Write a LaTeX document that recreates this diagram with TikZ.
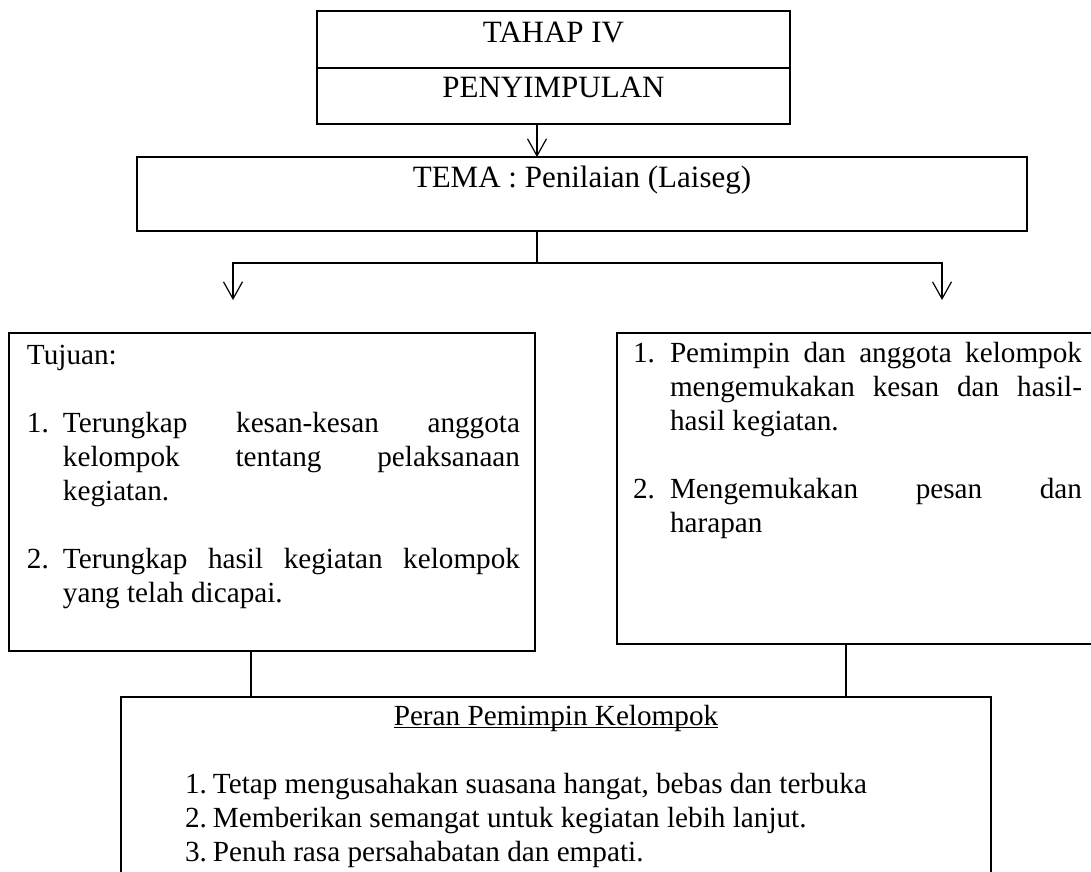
\documentclass[tikz,border=0pt]{standalone}
\usepackage{fontspec}
\setmainfont{Liberation Serif}
\usetikzlibrary{positioning,arrows.meta}
\newcommand\judul{\fontsize{31}{35}\selectfont}
\newcommand\isi{\fontsize{29.2}{34}\selectfont}
\newcommand\nomor[2][36pt]{\makebox[#1][l]{#2}}
\newcommand\garis[1]{\setbox0=\hbox{#1}\rlap{\rule[-3pt]{\wd0}{1.2pt}}\box0}
\tikzset{
  sel/.style={rectangle,draw=black,line width=1.6pt,inner sep=0pt,outer sep=0pt,
    font=\judul,minimum width=473pt},
  kotak/.style={rectangle,draw=black,line width=1.6pt,inner sep=0pt,outer sep=0pt,font=\isi},
  hub/.style={line width=1.2pt},
  panah/.style={-{Straight Barb[length=17pt,width=19pt]},line width=1.2pt},
}
\begin{document}
\begin{tikzpicture}[x=1pt,y=-1pt]
  \useasboundingbox (0,0) rectangle (1091,871);
  % tahap dan tema
  \node[sel,anchor=north west] (T) at (317,11) {\rule[-26pt]{0pt}{57pt}TAHAP IV};
  \node[sel,below=0pt of T] (P) {\rule[-27pt]{0pt}{56pt}PENYIMPULAN};
  \node[sel,minimum width=890pt,anchor=north west] (TM) at (137,157)
    {\rule[-44pt]{0pt}{74pt}TEMA : Penilaian (Laiseg)};
  % tujuan dan kegiatan
  \node[kotak,anchor=north west] (TJ) at (9,333) {\parbox[c][318pt][t]{526pt}{\leftskip=18pt
    \rule{0pt}{31pt}Tujuan:\\[34pt]
    \nomor{1.}\makebox[457pt][s]{Terungkap kesan-kesan anggota}\\
    \nomor{}\makebox[457pt][s]{kelompok tentang pelaksanaan}\\
    \nomor{}kegiatan.\\[34pt]
    \nomor{2.}\makebox[457pt][s]{Terungkap hasil kegiatan kelompok}\\
    \nomor{}yang telah dicapai.}};
  \node[kotak,anchor=north west] (K) at (617,333) {\parbox[c][311pt][t]{481pt}{\leftskip=16pt
    \rule{0pt}{29pt}\nomor[37pt]{1.}\makebox[412pt][s]{Pemimpin dan anggota kelompok}\\
    \nomor[37pt]{}\makebox[412pt][s]{mengemukakan kesan dan hasil-}\\
    \nomor[37pt]{}hasil kegiatan.\\[34pt]
    \nomor[37pt]{2.}\makebox[412pt][s]{Mengemukakan pesan dan}\\
    \nomor[37pt]{}harapan}};
  % peran pemimpin
  \node[kotak,anchor=north west] (PR) at (121,697) {\parbox[c][200pt][t]{870pt}{
    \makebox[870pt]{\rule{0pt}{28pt}\garis{Peran Pemimpin Kelompok}}\\[34pt]
    \hspace*{64pt}\nomor[28pt]{1.}Tetap mengusahakan suasana hangat, bebas dan terbuka\\
    \hspace*{64pt}\nomor[28pt]{2.}Memberikan semangat untuk kegiatan lebih lanjut.\\
    \hspace*{64pt}\nomor[28pt]{3.}Penuh rasa persahabatan dan empati.}};
  % sambungan
  \coordinate (H) at (537,263);
  \coordinate (KI) at (233,300);
  \coordinate (KA) at (942,300);
  \coordinate (A) at (251,0);
  \coordinate (B) at (846,0);
  \draw[panah] (P.south -| H) -- (TM.north -| H);
  \draw[hub] (TM.south -| H) -- (H);
  \draw[panah] (H) -| (KI);
  \draw[panah] (H) -| (KA);
  \draw[hub] (TJ.south -| A) -- (PR.north -| A);
  \draw[hub] (K.south -| B) -- (PR.north -| B);
\end{tikzpicture}
\end{document}
